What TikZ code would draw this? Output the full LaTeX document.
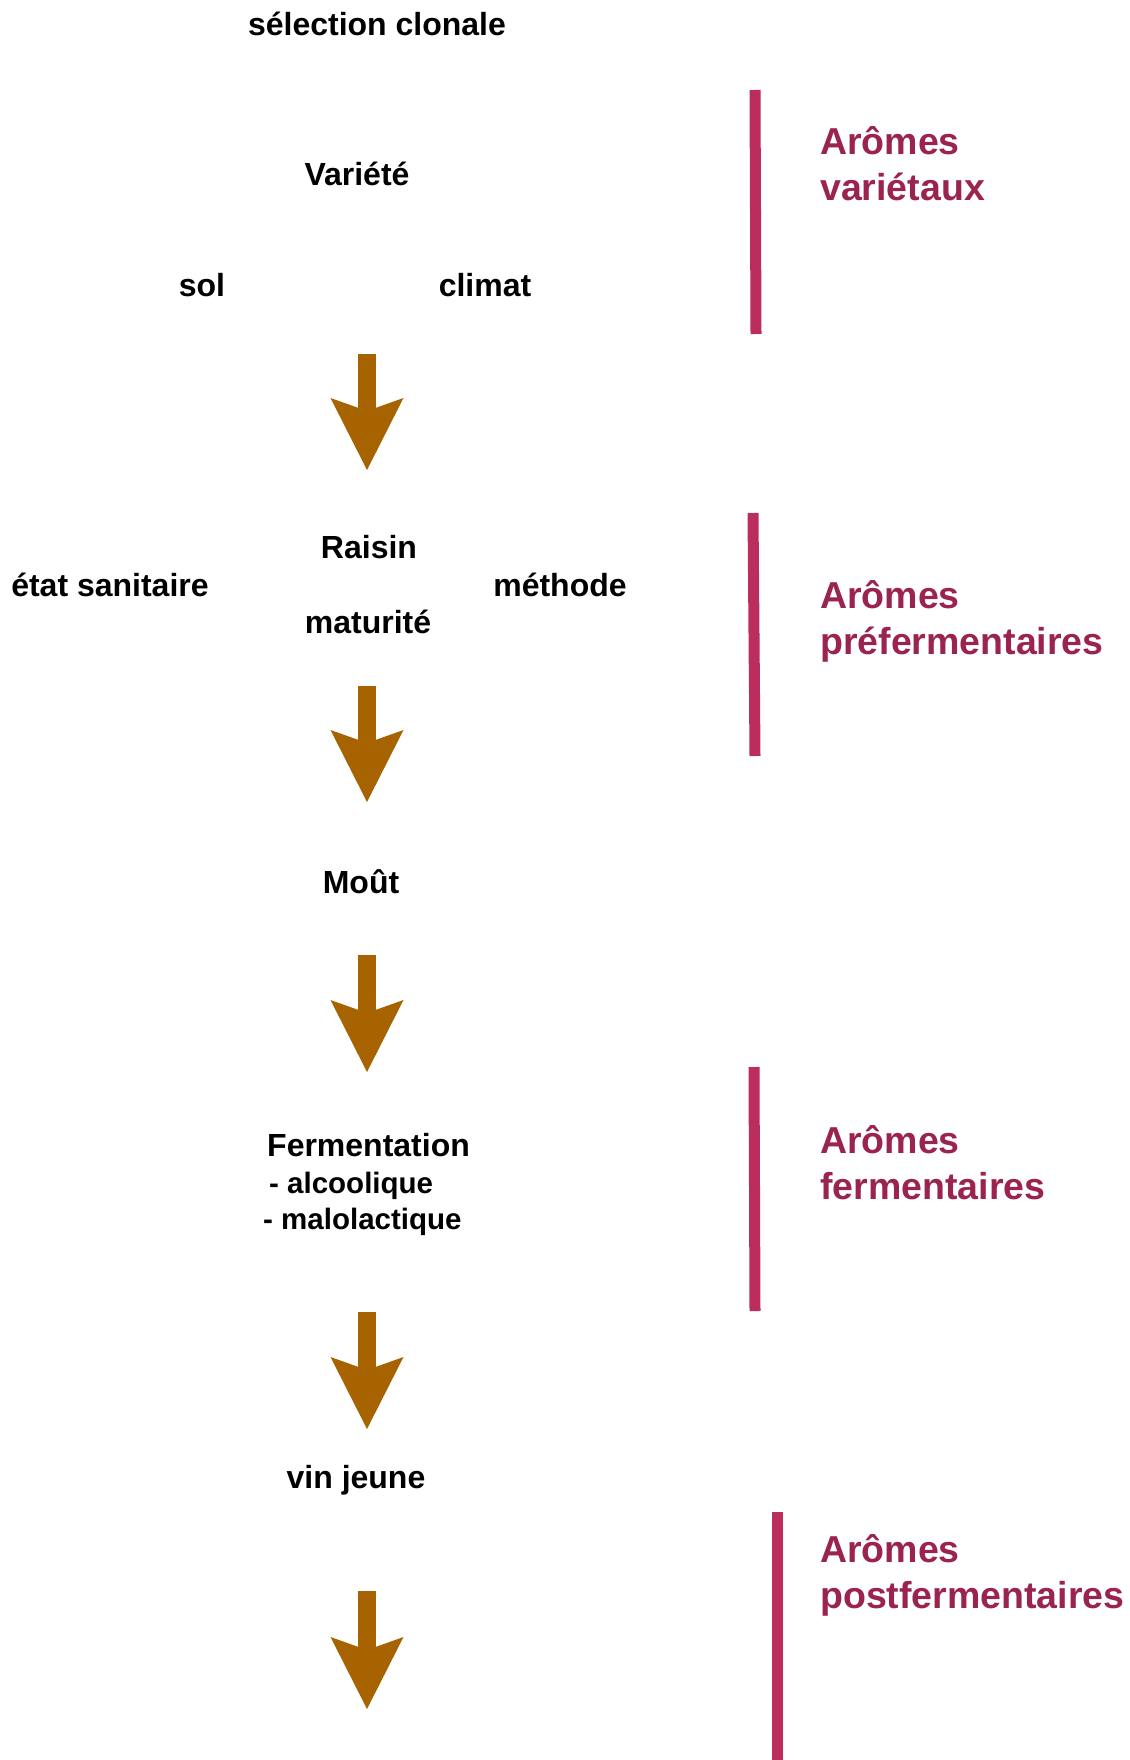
\documentclass[tikz,border=0pt]{standalone}
\usepackage{fontspec}
\setmainfont{Liberation Sans}
\usetikzlibrary{arrows.meta}
\definecolor{arrowbrown}{RGB}{166,99,0}
\definecolor{barpink}{RGB}{186,45,92}
\definecolor{aromapink}{RGB}{155,35,80}

\begin{document}
\begin{tikzpicture}[x=1pt,y=-1pt,
  lbl/.style={inner sep=0pt,anchor=base,font=\fontsize{32}{38}\selectfont\bfseries},
  sublbl/.style={lbl,anchor=base west,font=\fontsize{29.5}{36}\selectfont\bfseries},
  aroma/.style={inner sep=0pt,anchor=base west,align=left,text=aromapink,font=\fontsize{37.5}{46}\selectfont\bfseries},
  flow/.style={arrowbrown,line width=18pt,-{Stealth[length=72pt,width=73pt,inset=13pt,line width=0pt]}},
  bar/.style={barpink,line width=11pt}]
\useasboundingbox (0,0) rectangle (1129,1760);

% left column
\node (clone) [lbl] at (377,36) {sélection clonale};
\node (var) [lbl] at (357,186) {Variété};
\node (sol) [lbl] at (202,297) {sol};
\node (clim) [lbl] at (485,297) {climat};
\node (rais) [lbl] at (369,558) {Raisin};
\node (sani) [lbl] at (110,596) {état sanitaire};
\node (meth) [lbl] at (560,596) {méthode};
\node (matu) [lbl] at (368,633) {maturité};
\node (mout) [lbl] at (361,893) {Moût};
\node (ferm) [lbl,anchor=base west] at (267,1156) {Fermentation};
\node (alco) [sublbl] at (269,1193) {- alcoolique};
\node (malo) [sublbl] at (263,1229) {- malolactique};
\node (vin) [lbl] at (356,1488) {vin jeune};

% big arrows
\coordinate (a1s) at (367,354);  \coordinate (a1e) at (367,470);
\coordinate (a2s) at (367,686);  \coordinate (a2e) at (367,802);
\coordinate (a3s) at (367,955);  \coordinate (a3e) at (367,1072);
\coordinate (a4s) at (367,1312); \coordinate (a4e) at (367,1429);
\coordinate (a5s) at (367,1591); \coordinate (a5e) at (367,1709);
\draw[flow] (a1s) -- (a1e);
\draw[flow] (a2s) -- (a2e);
\draw[flow] (a3s) -- (a3e);
\draw[flow] (a4s) -- (a4e);
\draw[flow] (a5s) -- (a5e);

% right column
\draw[bar] (755,90) -- (756,334);
\draw[bar] (753,513) -- (755,756);
\draw[bar] (754,1067) -- (755,1311);
\draw[bar] (777,1512) -- (777,1760);
\node (avar) [aroma] at (820,201) {Arômes\\variétaux};
\node (apre) [aroma] at (820,654) {Arômes\\préfermentaires};
\node (afer) [aroma] at (820,1199) {Arômes\\fermentaires};
\node (apost) [aroma] at (820,1608) {Arômes\\postfermentaires};
\end{tikzpicture}
\end{document}
